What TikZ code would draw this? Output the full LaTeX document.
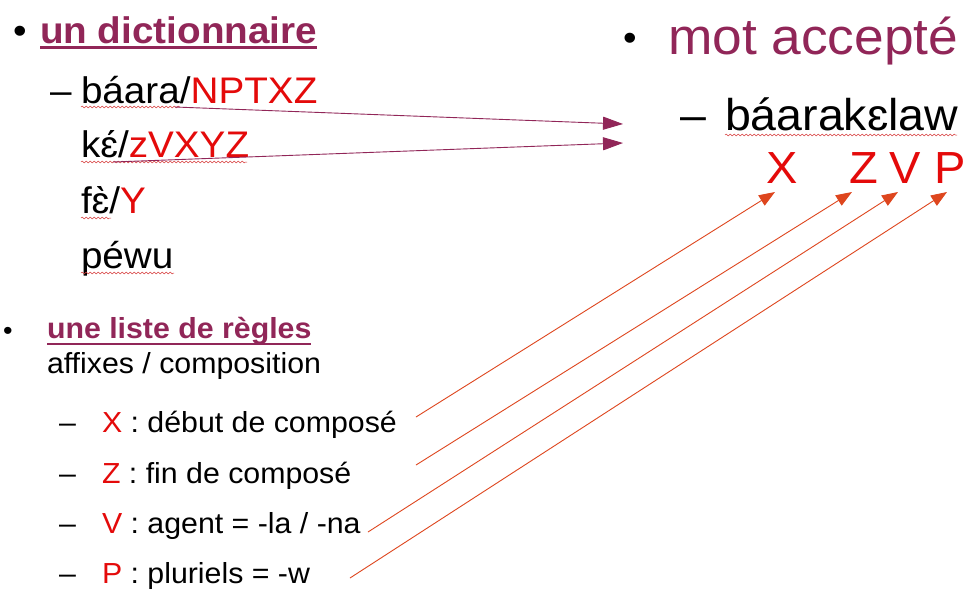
\documentclass[tikz,border=0pt]{standalone}
\usepackage{fontspec}
\setmainfont{Liberation Sans}[FakeStretch=1.045]
\usetikzlibrary{arrows.meta,decorations.pathmorphing}
\definecolor{plum}{RGB}{145,38,88}
\definecolor{tagred}{RGB}{228,10,10}
\definecolor{ruleline}{RGB}{222,70,30}
\definecolor{squiggle}{RGB}{215,60,60}
\begin{document}
\begin{tikzpicture}[x=1pt,y=-1pt,
  lbl/.style={anchor=base west,inner sep=0pt,outer sep=0pt},
  lvlone/.style={lbl,font=\fontsize{37}{37}\selectfont},
  headline/.style={lbl,font=\fontsize{51}{51}\selectfont,text=plum},
  wordline/.style={lbl,font=\fontsize{44.5}{44.5}\selectfont},
  tagletter/.style={lbl,font=\fontsize{45}{45}\selectfont,text=tagred},
  rulefont/.style={lbl,font=\fontsize{29}{29}\selectfont},
  titlebold/.style={lbl,font=\bfseries\fontsize{37}{37}\selectfont,text=plum},
  titlesmall/.style={lbl,font=\bfseries\fontsize{29}{29}\selectfont,text=plum},
  flow/.style={draw=plum,line width=0.9pt,-{Triangle[length=20pt,width=13pt]}},
  affix/.style={draw=ruleline,line width=0.9pt,-{Triangle[length=16pt,width=12pt]}},
  spell/.style={draw=squiggle,line width=0.5pt,decorate,
    decoration={snake,amplitude=0.9pt,segment length=4pt}}
]
\useasboundingbox[fill=white] (0,0) rectangle (964,595);

% --- dictionary block ---
\node[lvlone] (b1) at (13,43) {•};
\node[titlebold] (dict) at (40,43) {un dictionnaire};
\draw[plum,line width=2.4pt] ([yshift=-4.5pt]dict.base west) -- ([yshift=-4.5pt]dict.base east);
\node[lvlone] (d1) at (50,103) {–};
\node[lvlone] (w1) at (81,103) {báara/\textcolor{tagred}{NPTXZ}};
\node[lvlone] (w2) at (81,157) {kɛ́/\textcolor{tagred}{zVXYZ}};
\node[lvlone] (w3) at (81,213) {fɛ̀/\textcolor{tagred}{Y}};
\node[lvlone] (w4) at (81,268) {péwu};

% --- accepted word block ---
\node[lvlone] (b2) at (623,50) {•};
\node[headline] (acc) at (668,54) {mot accepté};
\node[wordline] (d2) at (680,130) {–};
\node[wordline] (res) at (725,130) {báarakɛlaw};
\node[tagletter] (tx) at (766,183) {X};
\node[tagletter] (tz) at (849,183) {Z};
\node[tagletter] (tv) at (889,183) {V};
\node[tagletter] (tp) at (934,183) {P};

% --- rule list block ---
\node[lbl,font=\fontsize{26}{26}\selectfont] (b3) at (3,339) {•};
\node[titlesmall] (rules) at (47,338) {une liste de règles};
\draw[plum,line width=2pt] ([yshift=-6pt]rules.base west) -- ([yshift=-6pt]rules.base east);
\node[rulefont] (sub) at (47,373) {affixes / composition};
\node[rulefont] (r1d) at (59,432) {–};
\node[rulefont] (r1) at (102,432) {\textcolor{tagred}{X} : début de composé};
\node[rulefont] (r2d) at (59,483) {–};
\node[rulefont] (r2) at (102,483) {\textcolor{tagred}{Z} : fin de composé};
\node[rulefont] (r3d) at (59,533) {–};
\node[rulefont] (r3) at (102,533) {\textcolor{tagred}{V} : agent = -la / -na};
\node[rulefont] (r4d) at (59,583) {–};
\node[rulefont] (r4) at (102,583) {\textcolor{tagred}{P} : pluriels = -w};

% spell-check squiggles
\draw[spell] (81,107) -- (180,107);
\draw[spell] (81,162) -- (247,162);
\draw[spell] (81,218) -- (111,218);
\draw[spell] (81,273) -- (174,273);
\draw[spell] (725,135) -- (957,135);

% dictionary entries feeding the accepted word
\coordinate (f1s) at (175,107);
\coordinate (f1e) at (623,124);
\coordinate (f2s) at (113,162);
\coordinate (f2e) at (623,143);
\draw[flow] (f1s) -- (f1e);
\draw[flow] (f2s) -- (f2e);

% each rule points to the letter it contributes
\coordinate (a1s) at (416,417);
\coordinate (a1e) at (775,192);
\coordinate (a2s) at (416,465);
\coordinate (a2e) at (852,192);
\coordinate (a3s) at (368,532);
\coordinate (a3e) at (898,192);
\coordinate (a4s) at (350,578);
\coordinate (a4e) at (947,192);
\draw[affix] (a1s) -- (a1e);
\draw[affix] (a2s) -- (a2e);
\draw[affix] (a3s) -- (a3e);
\draw[affix] (a4s) -- (a4e);
\end{tikzpicture}
\end{document}
